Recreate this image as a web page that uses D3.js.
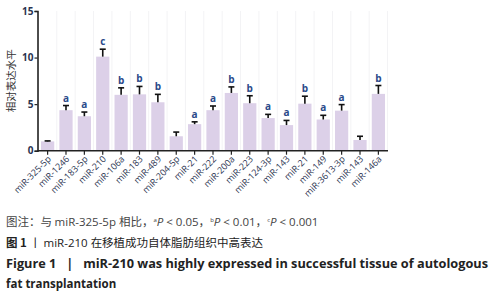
<!DOCTYPE html>
<html>
<head>
<meta charset="utf-8">
<script src="https://cdn.jsdelivr.net/npm/d3@7"></script>
<style>
  body { margin: 0; background: #fff; }
  svg text { font-family: "Open Sans", "Noto Sans CJK SC", sans-serif; }
</style>
</head>
<body>
<div id="chart"></div>
<script>
const width = 498;
const height = 300;

// miRNA names along the x axis
const genes = [
  "miR-325-5p", "miR-1246", "miR-183-5p", "miR-210", "miR-106a", "miR-183",
  "miR-489", "miR-204-5p", "miR-21", "miR-222", "miR-200a", "miR-223",
  "miR-124-3p", "miR-143", "miR-21", "miR-149", "miR-3613-3p", "miR-143", "miR-146a",
];
// relative expression (mean) and upper error
const means = [1.0, 4.35, 3.7, 10.1, 6.0, 6.05, 5.2, 1.55, 2.85, 4.35, 6.2, 5.1, 3.5, 2.75, 5.05, 3.35, 4.3, 1.15, 6.1];
const errs = [0.05, 0.5, 0.45, 0.8, 0.75, 0.85, 0.85, 0.45, 0.25, 0.45, 0.65, 0.8, 0.4, 0.5, 0.8, 0.45, 0.65, 0.4, 0.9];
const sig = ["", "a", "a", "c", "b", "b", "b", "", "a", "a", "b", "b", "a", "a", "b", "a", "a", "", "b"];
const yTicks = [0, 5, 10, 15];

const svg = d3.select("#chart").append("svg")
  .attr("width", width).attr("height", height);

const x = d3.scaleBand()
  .domain(d3.range(genes.length))
  .range([41, 385])
  .paddingInner(0.28)
  .paddingOuter(0);

const y = d3.scaleLinear().domain([0, 15]).range([150.7, 11]);

// faint vertical guide lines
svg.append("g")
  .selectAll("line")
  .data(d3.range(genes.length + 1))
  .join("line")
  .attr("x1", (d) => 41 + d * x.step() - x.step() * 0.14)
  .attr("x2", (d) => 41 + d * x.step() - x.step() * 0.14)
  .attr("y1", y(15))
  .attr("y2", y(0))
  .attr("stroke", "#f3f3f5")
  .attr("stroke-width", 1);

// bars
svg.append("g")
  .selectAll("rect")
  .data(means)
  .join("rect")
  .attr("x", (d, i) => x(i))
  .attr("y", (d) => y(d))
  .attr("width", x.bandwidth())
  .attr("height", (d) => y(0) - y(d))
  .attr("fill", "#dcd0e8");

// error bars (upper only)
const eb = svg.append("g").attr("stroke", "#111").attr("stroke-width", 1.6);
means.forEach((m, i) => {
  const cx = x(i) + x.bandwidth() / 2;
  eb.append("line")
    .attr("x1", cx).attr("x2", cx)
    .attr("y1", y(m)).attr("y2", y(m + errs[i]));
  eb.append("line")
    .attr("x1", cx - 3).attr("x2", cx + 3)
    .attr("y1", y(m + errs[i])).attr("y2", y(m + errs[i]));
});

// significance letters
svg.append("g")
  .selectAll("text")
  .data(sig)
  .join("text")
  .attr("x", (d, i) => x(i) + x.bandwidth() / 2)
  .attr("y", (d, i) => y(means[i] + errs[i]) - 4)
  .attr("text-anchor", "middle")
  .attr("font-size", 10)
  .attr("font-weight", "bold")
  .attr("fill", "#2b4a8a")
  .text((d) => d);

// y axis
const yAxis = svg.append("g")
  .attr("transform", "translate(37.5,0)")
  .call(d3.axisLeft(y).tickValues(yTicks).tickSize(3).tickPadding(1));
yAxis.select(".domain").attr("stroke", "#222").attr("stroke-width", 1.6);
yAxis.selectAll(".tick line").attr("stroke", "#222").attr("stroke-width", 1.2);
yAxis.selectAll(".tick text")
  .attr("font-size", 10).attr("font-weight", "bold").attr("fill", "#2a3350");

// x axis
const xAxisG = svg.append("g").attr("transform", `translate(0,${y(0)})`);
xAxisG.append("line")
  .attr("x1", 37.5).attr("x2", 388)
  .attr("stroke", "#222").attr("stroke-width", 1.6);
xAxisG.selectAll(".xt")
  .data(genes)
  .join("line")
  .attr("x1", (d, i) => x(i) + x.bandwidth() / 2)
  .attr("x2", (d, i) => x(i) + x.bandwidth() / 2)
  .attr("y1", 0).attr("y2", 4)
  .attr("stroke", "#222").attr("stroke-width", 1.2);
xAxisG.selectAll(".xl")
  .data(genes)
  .join("text")
  .attr("transform", (d, i) => `translate(${x(i) + x.bandwidth() / 2 + 4},${9}) rotate(-45)`)
  .attr("text-anchor", "end")
  .attr("font-size", 9)
  .attr("fill", "#2a3350")
  .text((d) => d);

// y label
svg.append("text")
  .attr("transform", `translate(15,${y(7.5)}) rotate(-90)`)
  .attr("text-anchor", "middle")
  .attr("font-size", 10.5)
  .attr("fill", "#333")
  .attr("font-family", "Noto Sans CJK SC")
  .text("相对表达水平");

// caption
const cap = svg.append("g").attr("fill", "#222");
const l1 = cap.append("text").attr("x", 6).attr("y", 226).attr("font-size", 11.5).attr("fill", "#444");
l1.append("tspan").attr("font-family", "Noto Sans CJK SC").text("图注：与 ");
l1.append("tspan").text("miR-325-5p ");
l1.append("tspan").attr("font-family", "Noto Sans CJK SC").text("相比，");
l1.append("tspan").attr("font-size", 6).attr("dy", -4).text("a");
l1.append("tspan").attr("font-style", "italic").attr("dy", 4).text("P");
l1.append("tspan").text(" < 0.05，");
l1.append("tspan").attr("font-size", 6).attr("dy", -4).text("b");
l1.append("tspan").attr("font-style", "italic").attr("dy", 4).text("P");
l1.append("tspan").text(" < 0.01，");
l1.append("tspan").attr("font-size", 6).attr("dy", -4).text("c");
l1.append("tspan").attr("font-style", "italic").attr("dy", 4).text("P");
l1.append("tspan").text(" < 0.001");

const l2 = cap.append("text").attr("x", 6).attr("y", 247).attr("font-size", 11.5);
l2.append("tspan").attr("font-family", "Noto Sans CJK SC").attr("font-weight", "bold").text("图 1");
l2.append("tspan").attr("font-family", "Noto Sans CJK SC").text("  丨  ");
l2.append("tspan").text("miR-210 ");
l2.append("tspan").attr("font-family", "Noto Sans CJK SC").text("在移植成功自体脂肪组织中高表达");

cap.append("text").attr("x", 6).attr("y", 268)
  .attr("font-size", 11.5).attr("font-weight", "bold")
  .attr("textLength", 482).attr("lengthAdjust", "spacingAndGlyphs")
  .attr("xml:space", "preserve")
  .text("Figure 1   |   miR-210 was highly expressed in successful tissue of autologous");
cap.append("text").attr("x", 6).attr("y", 288)
  .attr("font-size", 11.5).attr("font-weight", "bold")
  .text("fat transplantation");
</script>
</body>
</html>
